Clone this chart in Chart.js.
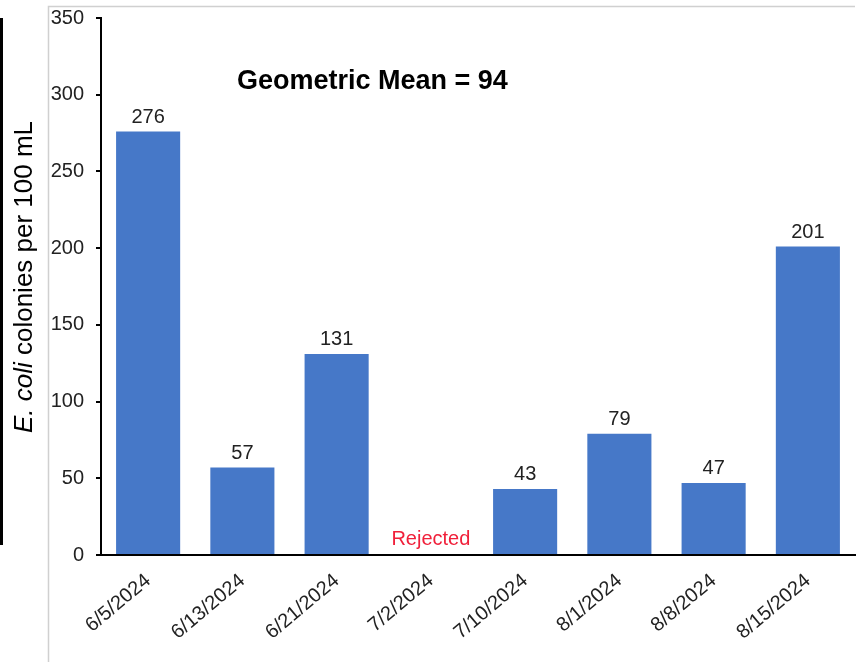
<!DOCTYPE html>
<html>
<head>
<meta charset="utf-8">
<script src="https://cdn.jsdelivr.net/npm/chart.js@4"></script>
<style>
html,body{margin:0;padding:0;background:#fff;}
#wrap{width:862px;height:662px;position:relative;}
</style>
</head>
<body>
<div id="wrap"><canvas id="c" width="862" height="662"></canvas></div>
<script>
const categories = ['6/5/2024','6/13/2024','6/21/2024','7/2/2024','7/10/2024','8/1/2024','8/8/2024','8/15/2024'];
const ecoliValues = [276, 57, 131, null, 43, 79, 47, 201];
const yTicks = [0, 50, 100, 150, 200, 250, 300, 350];
const rejectedLabel = 'Rejected';
const meanText = 'Geometric Mean = 94';

const FONT = '"Liberation Sans", Arial, sans-serif';

const overlay = {
  id: 'overlay',
  afterDraw(chart) {
    const ctx = chart.ctx;
    const meta = chart.getDatasetMeta(0);
    const ys = chart.scales.y;
    ctx.save();
    // frame lines
    ctx.strokeStyle = '#d0d0d0';
    ctx.lineWidth = 1.5;
    ctx.beginPath();
    ctx.moveTo(48.5, 662); ctx.lineTo(48.5, 6.5); ctx.lineTo(855, 6.5);
    ctx.stroke();
    ctx.strokeStyle = '#000';
    ctx.lineWidth = 3;
    ctx.beginPath();
    ctx.moveTo(1.5, 18); ctx.lineTo(1.5, 545);
    ctx.stroke();
    // extend x axis line slightly left of the y axis
    ctx.lineWidth = 2;
    ctx.beginPath();
    ctx.moveTo(96, ys.getPixelForValue(0)); ctx.lineTo(chart.chartArea.left, ys.getPixelForValue(0));
    ctx.stroke();
    // data labels
    ctx.fillStyle = '#222';
    ctx.font = '20px ' + FONT;
    ctx.textAlign = 'center';
    ctx.textBaseline = 'alphabetic';
    meta.data.forEach((bar, i) => {
      const v = ecoliValues[i];
      if (v === null) {
        ctx.save();
        ctx.fillStyle = '#f0203a';
        ctx.fillText(rejectedLabel, bar.x, ys.getPixelForValue(0) - 10);
        ctx.restore();
      } else {
        ctx.fillText(String(v), bar.x, ys.getPixelForValue(v) - 9);
      }
    });
    // geometric mean
    ctx.font = 'bold 27px ' + FONT;
    ctx.fillStyle = '#000';
    ctx.textAlign = 'left';
    ctx.textBaseline = 'middle';
    ctx.fillText(meanText, 237, 82);
    // y title with mixed styles
    ctx.translate(25, 277);
    ctx.rotate(-Math.PI / 2);
    ctx.textBaseline = 'middle';
    ctx.fillStyle = '#000';
    const p1 = 'E. coli';
    const p2 = ' colonies per 100 mL';
    ctx.font = 'italic 26px ' + FONT;
    const w1 = ctx.measureText(p1).width;
    ctx.font = '26px ' + FONT;
    const w2 = ctx.measureText(p2).width;
    const start = -(w1 + w2) / 2;
    ctx.font = 'italic 26px ' + FONT;
    ctx.fillText(p1, start, 0);
    ctx.font = '26px ' + FONT;
    ctx.fillText(p2, start + w1, 0);
    ctx.restore();
  }
};

new Chart(document.getElementById('c'), {
  type: 'bar',
  data: {
    labels: categories,
    datasets: [{
      data: ecoliValues,
      backgroundColor: 'rgb(70,120,200)',
      borderWidth: 0,
      barPercentage: 0.68,
      categoryPercentage: 1.0
    }]
  },
  options: {
    responsive: false,
    animation: false,
    layout: { padding: { left: 0, top: 18, right: 7, bottom: 0 } },
    plugins: { legend: { display: false }, tooltip: { enabled: false } },
    scales: {
      x: {
        grid: { display: false, drawTicks: false },
        border: { display: true, color: '#000', width: 2 },
        ticks: {
          color: '#222',
          font: { family: FONT, size: 20 },
          minRotation: 40,
          maxRotation: 40,
          padding: 14,
          autoSkip: false
        },
        afterFit(axis) { axis.height = 107; axis.paddingLeft = 0; axis.paddingRight = 0; }
      },
      y: {
        min: 0,
        max: 350,
        afterBuildTicks(axis) { axis.ticks = yTicks.map(v => ({ value: v })); },
        grid: { drawOnChartArea: false, drawTicks: true, tickLength: 5, color: '#000', lineWidth: 2 },
        border: { display: true, color: '#000', width: 2 },
        ticks: {
          color: '#222',
          font: { family: FONT, size: 20 },
          padding: 12
        },
        afterFit(axis) { axis.width = 101; axis.paddingTop = 0; axis.paddingBottom = 0; }
      }
    }
  },
  plugins: [overlay]
});
</script>
</body>
</html>
